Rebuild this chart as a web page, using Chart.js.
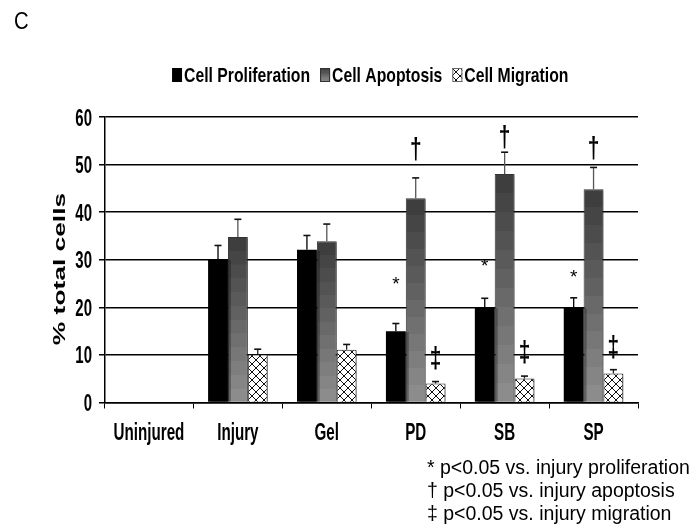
<!DOCTYPE html>
<html>
<head>
<meta charset="utf-8">
<script src="https://cdn.jsdelivr.net/npm/chart.js@4.4.1/dist/chart.umd.min.js"></script>
<style>
  html, body { margin: 0; padding: 0; background: #fff; }
  #wrap { width: 699px; height: 529px; }
</style>
</head>
<body>
<div id="wrap"><canvas id="chart" width="699" height="529"></canvas></div>
<script>
// datos
const categories = ['Uninjured', 'Injury', 'Gel', 'PD', 'SB', 'SP'];
const seriesNames = ['Cell Proliferation', 'Cell Apoptosis', 'Cell Migration'];
const proliferation = [0, 30.1, 32.1, 15.0, 20.0, 20.0];
const proliferationErr = [0, 2.9, 3.0, 1.6, 1.9, 2.0];
const apoptosis = [0, 34.8, 33.9, 42.9, 48.0, 44.8];
const apoptosisErr = [0, 3.7, 3.6, 4.3, 4.6, 4.6];
const migration = [0, 10.1, 11.1, 4.0, 5.05, 6.1];
const migrationErr = [0, 1.1, 1.1, 0.4, 0.5, 0.8];
const yTitle = '% total cells';
const panelLetter = 'C';

// marcas de significancia: simbolo, categoria, serie, valor y
const markSymbols = ['*', '*', '*', '\u2020', '\u2020', '\u2020', '\u2021', '\u2021', '\u2021'];
const markCategory = [3, 4, 5, 3, 4, 5, 3, 4, 5];
const markSeries = [0, 0, 0, 1, 1, 1, 2, 2, 2];
const markValues = [25.7, 29.5, 27.1, 53.3, 55.8, 53.5, 9.3, 10.7, 11.6];

const footnotes = [
    '* p<0.05 vs. injury proliferation',
    '\u2020 p<0.05 vs. injury apoptosis',
    '\u2021 p<0.05 vs. injury migration'
];

const SANS = "'Liberation Sans', Arial, sans-serif";

// --- rellenos ---
function makeHatch() {
    const c = document.createElement('canvas');
    c.width = 8; c.height = 8;
    const g = c.getContext('2d');
    g.fillStyle = '#fff';
    g.fillRect(0, 0, 8, 8);
    g.strokeStyle = '#111';
    g.lineWidth = 1;
    g.beginPath();
    g.moveTo(0, 0); g.lineTo(8, 8);
    g.moveTo(8, 0); g.lineTo(0, 8);
    g.stroke();
    return g.createPattern(c, 'repeat');
}
const hatch = makeHatch();

function bandedGradient(ctx, top, bottom) {
    const grad = ctx.createLinearGradient(0, top, 0, bottom);
    const n = 12;
    for (let i = 0; i < n; i++) {
        const v = Math.round(62 + (140 - 62) * i / (n - 1));
        const col = 'rgb(' + v + ',' + v + ',' + v + ')';
        grad.addColorStop(i / n, col);
        grad.addColorStop((i + 1) / n - 0.0001, col);
    }
    return grad;
}

function apoptosisFill(context) {
    const chart = context.chart;
    if (!chart.chartArea || context.type !== 'data') return '#666';
    const y = chart.scales.y;
    const top = y.getPixelForValue(context.raw);
    const base = y.getPixelForValue(0);
    if (base - top < 1) return '#666';
    return bandedGradient(chart.ctx, top, base);
}

// texto estrecho (la figura original usa Arial Narrow)
function narrowText(ctx, text, x, y, font, sx, align) {
    ctx.save();
    ctx.translate(x, y);
    ctx.scale(sx, 1);
    ctx.font = font;
    ctx.textAlign = align;
    ctx.fillText(text, 0, 0);
    ctx.restore();
}

// --- plugin: sombra, barras de error, marcas, leyenda y textos ---
const decorations = {
    id: 'decorations',
    beforeDatasetDraw(chart) {
        const ctx = chart.ctx;
        ctx.save();
        ctx.shadowColor = 'rgba(0,0,0,0.3)';
        ctx.shadowOffsetX = 3;
        ctx.shadowOffsetY = 1;
        ctx.shadowBlur = 0;
    },
    afterDatasetDraw(chart) {
        chart.ctx.restore();
    },
    afterDatasetsDraw(chart) {
        const ctx = chart.ctx;
        const y = chart.scales.y;
        const errs = [proliferationErr, apoptosisErr, migrationErr];
        const lineCols = ['#000', '#555', '#222'];
        ctx.save();
        chart.data.datasets.forEach((ds, i) => {
            const meta = chart.getDatasetMeta(i);
            meta.data.forEach((bar, j) => {
                const e = errs[i][j];
                if (!e) return;
                const yb = y.getPixelForValue(ds.data[j]);
                const yt = y.getPixelForValue(ds.data[j] + e);
                ctx.strokeStyle = lineCols[i];
                ctx.lineWidth = 1.3;
                ctx.beginPath();
                ctx.moveTo(bar.x, yb);
                ctx.lineTo(bar.x, yt);
                ctx.stroke();
                ctx.strokeStyle = '#111';
                ctx.lineWidth = 1.6;
                ctx.beginPath();
                ctx.moveTo(bar.x - 3.5, yt);
                ctx.lineTo(bar.x + 3.5, yt);
                ctx.stroke();
            });
        });

        // marcas de significancia
        ctx.fillStyle = '#000';
        markSymbols.forEach((s, k) => {
            const bar = chart.getDatasetMeta(markSeries[k]).data[markCategory[k]];
            const py = y.getPixelForValue(markValues[k]);
            const font = s === '*' ? '19px ' + SANS : 'bold 29px ' + SANS;
            const sx = s === '*' ? 1 : 0.72;
            ctx.font = font;
            const m = ctx.measureText(s);
            const off = (m.actualBoundingBoxAscent - m.actualBoundingBoxDescent) / 2;
            narrowText(ctx, s, bar.x, py + off, font, sx, 'center');
        });
        ctx.restore();
    },
    afterDraw(chart) {
        const ctx = chart.ctx;
        const area = chart.chartArea;
        const xs = chart.scales.x;
        const ys = chart.scales.y;
        ctx.save();
        ctx.fillStyle = '#000';
        ctx.textBaseline = 'alphabetic';

        // letra del panel
        narrowText(ctx, panelLetter, 14, 29, '23px ' + SANS, 0.88, 'left');

        // etiquetas de los ejes
        xs.ticks.forEach((t, i) => {
            narrowText(ctx, xs.getLabelForValue(t.value), xs.getPixelForTick(i), 440,
                'bold 23px ' + SANS, 0.66, 'center');
        });
        ys.ticks.forEach((t, i) => {
            narrowText(ctx, t.label, 92, ys.getPixelForTick(i) + 8.5,
                'bold 23px ' + SANS, 0.65, 'right');
        });

        // titulo del eje y
        ctx.save();
        ctx.translate(65, 269);
        ctx.rotate(-Math.PI / 2);
        ctx.scale(1.55, 1);
        ctx.font = 'bold 17px ' + SANS;
        ctx.textAlign = 'center';
        ctx.fillText(yTitle, 0, 0);
        ctx.restore();

        // leyenda
        const lfont = 'bold 21px ' + SANS, lsx = 0.75;
        ctx.font = lfont;
        const boxW = 10, boxH = 14, gapIn = 2, gapOut = 10;
        const widths = seriesNames.map(t => ctx.measureText(t).width * lsx);
        const total = widths.reduce((a, b) => a + b, 0) + 3 * (boxW + gapIn) + 2 * gapOut;
        let x = (area.left + area.right) / 2 - 1 - total / 2;
        const base = 82;
        seriesNames.forEach((t, i) => {
            const top = base - boxH;
            if (i === 0) {
                ctx.fillStyle = '#000';
                ctx.fillRect(x, top, boxW, boxH);
            } else if (i === 1) {
                ctx.fillStyle = bandedGradient(ctx, top, top + boxH);
                ctx.fillRect(x, top, boxW, boxH);
                ctx.strokeStyle = '#333';
                ctx.lineWidth = 1;
                ctx.strokeRect(x + 0.5, top + 0.5, boxW - 1, boxH - 1);
            } else {
                ctx.fillStyle = hatch;
                ctx.fillRect(x, top, boxW, boxH);
                ctx.strokeStyle = '#666';
                ctx.lineWidth = 1;
                ctx.strokeRect(x + 0.5, top + 0.5, boxW - 1, boxH - 1);
            }
            ctx.fillStyle = '#000';
            narrowText(ctx, t, x + boxW + gapIn, base, lfont, lsx, 'left');
            x += boxW + gapIn + widths[i] + gapOut;
        });

        // notas al pie
        ctx.font = '19.5px ' + SANS;
        ctx.textAlign = 'left';
        footnotes.forEach((t, i) => {
            ctx.fillText(t, 427, 474 + i * 23);
        });
        ctx.restore();
    }
};

new Chart(document.getElementById('chart'), {
    type: 'bar',
    data: {
        labels: categories,
        datasets: [
            { label: seriesNames[0], data: proliferation, backgroundColor: '#000', borderWidth: 0 },
            { label: seriesNames[1], data: apoptosis, backgroundColor: apoptosisFill, borderColor: '#333', borderWidth: 1 },
            { label: seriesNames[2], data: migration, backgroundColor: hatch, borderColor: '#222', borderWidth: 1 }
        ]
    },
    options: {
        responsive: false,
        animation: false,
        devicePixelRatio: 1,
        layout: { padding: { top: 117, right: 61, bottom: 0, left: 0 } },
        datasets: { bar: { categoryPercentage: 0.67, barPercentage: 1.0 } },
        plugins: {
            legend: { display: false },
            tooltip: { enabled: false }
        },
        scales: {
            x: {
                grid: { drawOnChartArea: false, offset: true, color: '#000', tickLength: 6, lineWidth: 1 },
                border: { color: '#000', width: 1.5 },
                // las etiquetas se dibujan estrechas en el plugin
                ticks: { color: 'rgba(0,0,0,0)', maxRotation: 0, autoSkip: false, font: { size: 10 } },
                afterFit(scale) { scale.height = 126.5; }
            },
            y: {
                min: 0,
                max: 60,
                ticks: { stepSize: 10, color: 'rgba(0,0,0,0)', font: { size: 10 } },
                grid: { color: '#000', lineWidth: 1.5, tickLength: 5.5 },
                border: { color: '#000', width: 1.5 },
                afterFit(scale) { scale.width = 104.5; }
            }
        }
    },
    plugins: [decorations]
});
</script>
</body>
</html>
